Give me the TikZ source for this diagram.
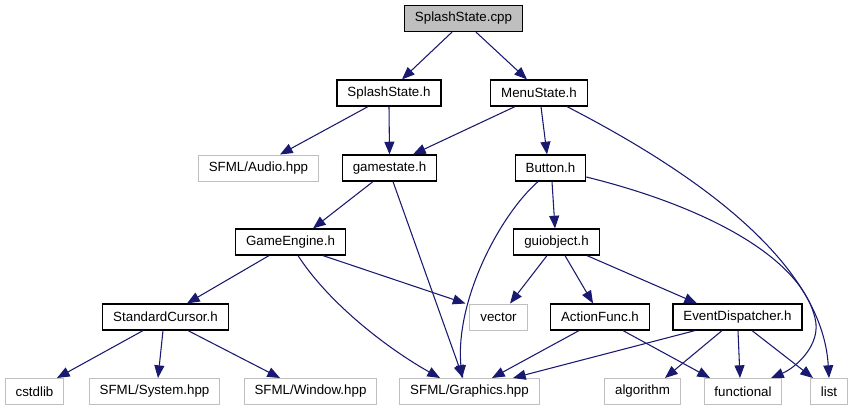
\documentclass[tikz,border=0pt]{standalone}
\usepackage{fontspec}
\setmainfont{Liberation Sans}
\usetikzlibrary{arrows.meta,calc}
\definecolor{edgeblue}{HTML}{191970}
\definecolor{sysgray}{HTML}{BFBFBF}
\tikzset{
	header/.style={draw=black, line width=0.9pt, fill=white, inner xsep=7.8pt, inner ysep=0pt, minimum height=19.5pt, font=\fontsize{10pt}{12pt}\selectfont},
	rootfile/.style={header, fill=sysgray},
	syshead/.style={header, draw=sysgray, line width=0.75pt},
	incl/.style={draw=edgeblue, line width=0.8pt, -{Triangle[length=9.5pt,width=7.5pt]}}
}
\begin{document}
\begin{tikzpicture}[x=0.75pt, y=-0.75pt]
		\useasboundingbox (0,0) rectangle (853,411);
		\node[rootfile] (cpp) at (463.5,18.5) {SplashState.cpp};
		\node[header] (splash) at (389,93) {SplashState.h};
		\node[header] (menu) at (539,93) {MenuState.h};
		\node[syshead] (audio) at (258.5,168) {SFML/Audio.hpp};
		\node[header] (gamestate) at (389.5,168) {gamestate.h};
		\node[header] (button) at (550.5,168) {Button.h};
		\node[header] (engine) at (290.5,242) {GameEngine.h};
		\node[header] (guiobj) at (556.5,242) {guiobject.h};
		\node[header] (cursor) at (165.5,317) {StandardCursor.h};
		\node[syshead] (vector) at (498.5,317) {vector};
		\node[header] (action) at (600,317) {ActionFunc.h};
		\node[header] (events) at (737.5,317) {EventDispatcher.h};
		\node[syshead] (cstdlib) at (34.5,391.5) {cstdlib};
		\node[syshead] (system) at (154.5,391.5) {SFML/System.hpp};
		\node[syshead] (window) at (310.5,391.5) {SFML/Window.hpp};
		\node[syshead] (graphics) at (469.5,391.5) {SFML/Graphics.hpp};
		\node[syshead] (algorithm) at (642.5,391.5) {algorithm};
		\node[syshead] (functional) at (743,391.5) {functional};
		\node[syshead] (list) at (829,391.5) {list};

		\draw[incl] ($(cpp.south)+(-11.5,0)$) -- ($(splash.north)+(13,0)$);
		\draw[incl] ($(cpp.south)+(12.5,0)$) -- ($(menu.north)+(-12,0)$);
		\draw[incl] ($(splash.south)+(-21,0)$) -- ($(audio.north)+(21.5,0)$);
		\draw[incl] (splash.south) -- (gamestate.north);
		\draw[incl] ($(menu.south)+(-24,0)$) -- ($(gamestate.north)+(23.5,0)$);
		\draw[incl] ($(menu.south)+(2,0)$) -- ($(button.north)+(-3.5,0)$);
		\draw[incl] ($(menu.south)+(28,0)$) .. controls (690,170) and (822,260) .. (list.north);

		\draw[incl] ($(gamestate.south)+(-16.5,0)$) -- ($(engine.north)+(22.5,0)$);
		\draw[incl] ($(gamestate.south)+(3.5,0)$) -- ($(graphics.north)+(-6.5,0)$);
		\draw[incl] ($(button.south)+(1.5,0)$) -- ($(guiobj.north)+(-1.5,0)$);
		\draw[incl] ($(button.south)+(-12.5,0)$) .. controls (500,215) and (455,300) .. ($(graphics.north)+(-7.5,0)$);
		\draw[incl] ($(button.east)+(0,9)$) .. controls (700,205) and (800,255) .. (815,318) .. controls (822,345) and (795,368) .. ($(functional.north)+(28,0)$);

		\draw[incl] ($(engine.south)+(-21.5,0)$) -- ($(cursor.north)+(21.5,0)$);
		\draw[incl] ($(engine.south)+(32.5,0)$) -- ($(vector.north west)+(-4,0)$);
		\draw[incl] ($(engine.south)+(7.5,0)$) .. controls (330,305) and (390,350) .. ($(graphics.north)+(-29.5,0)$);
		\draw[incl] ($(guiobj.south)+(-9.5,0)$) -- ($(vector.north)+(11.5,0)$);
		\draw[incl] ($(guiobj.south)+(8.5,0)$) -- ($(action.north)+(-7,0)$);
		\draw[incl] ($(guiobj.south)+(30.5,0)$) -- ($(events.north)+(-40.5,0)$);

		\draw[incl] ($(cursor.south)+(-22.5,0)$) -- ($(cstdlib.north)+(22.5,0)$);
		\draw[incl] ($(cursor.south)+(-2.5,0)$) -- ($(system.north)+(3.5,0)$);
		\draw[incl] ($(cursor.south)+(22.5,0)$) -- ($(window.north)+(-30.5,0)$);
		\draw[incl] ($(action.south)+(-21,0)$) -- ($(graphics.north)+(22.5,0)$);
		\draw[incl] ($(action.south)+(23,0)$) -- ($(functional.north)+(-33,0)$);
		\draw[incl] ($(events.south)+(-42.5,0)$) -- ($(graphics.north)+(43.5,0)$);
		\draw[incl] ($(events.south)+(-15.5,0)$) -- ($(algorithm.north)+(22.5,0)$);
		\draw[incl] ($(events.south)+(0.5,0)$) -- ($(functional.north)+(-3,0)$);
		\draw[incl] ($(events.south)+(14.5,0)$) -- ($(list.north)+(-16,0)$);
	\end{tikzpicture}
\end{document}
